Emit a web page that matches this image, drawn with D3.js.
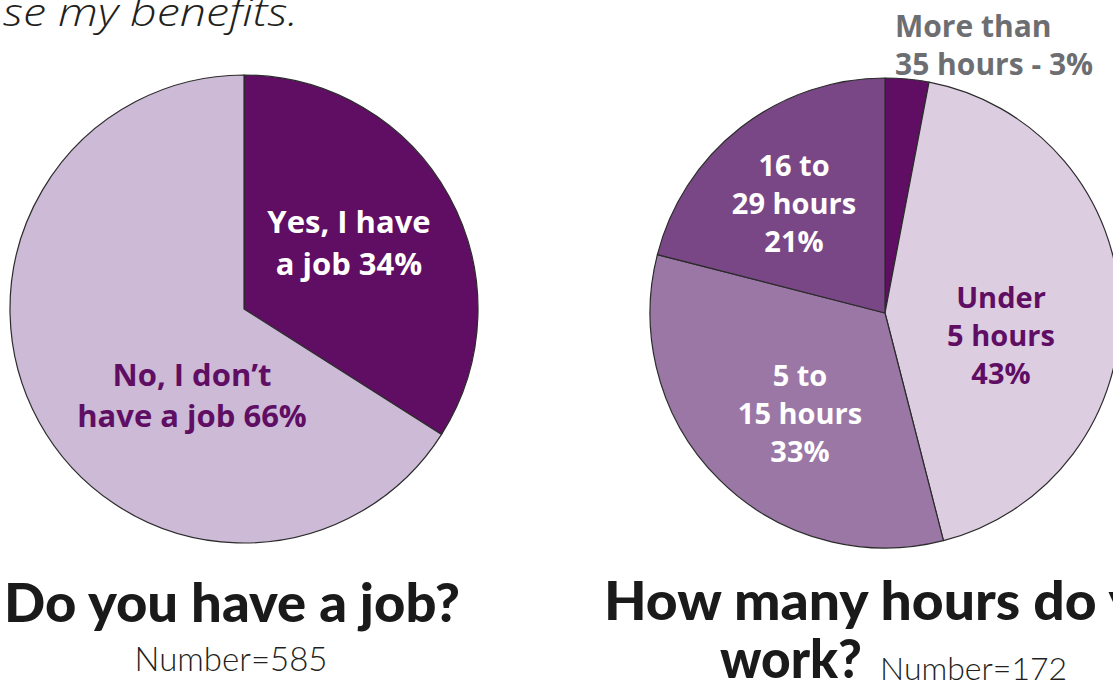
<!DOCTYPE html>
<html>
<head>
<meta charset="utf-8">
<script src="https://cdn.jsdelivr.net/npm/d3@7"></script>
<style>
  html, body { margin: 0; padding: 0; background: #fff; overflow: hidden; }
  svg { display: block; }
</style>
</head>
<body>
<svg id="chart" width="1113" height="684"></svg>
<script>
// ---- data ----
const jobCategories = ["Yes, I have a job", "No, I don't have a job"];
const jobValues = [34, 66];
const jobLabels = [["Yes, I have", "a job 34%"], ["No, I don\u2019t", "have a job 66%"]];

const hoursCategories = ["More than 35 hours", "Under 5 hours", "5 to 15 hours", "16 to 29 hours"];
const hoursValues = [3, 43, 33, 21];
const hoursLabels = [["More than", "35 hours - 3%"], ["Under", "5 hours", "43%"], ["5 to", "15 hours", "33%"], ["16 to", "29 hours", "21%"]];

const titles = ["Do you have a job?", "How many hours do you", "work?"];
const numbers = ["Number=585", "Number=172"];
const headerText = "se my benefits.";

// ---- styles ----
const jobColors = ["#5f0e63", "#ccbad6"];
const hoursColors = ["#5f0e63", "#dccde1", "#9b77a6", "#7a4786"];
const jobLabelColors = ["#ffffff", "#5f0e63"];
const hoursLabelColors = ["#6d6e71", "#5f0e63", "#ffffff", "#ffffff"];
const labelFont = "'Open Sans', Lato, sans-serif";

const svg = d3.select("#chart");

// header (partly visible line of text from the page above)
svg.append("text")
  .attr("x", 3).attr("y", 26)
  .attr("font-family", "'Open Sans', Lato, sans-serif")
  .attr("font-style", "italic").attr("font-weight", 300)
  .attr("font-size", 38).attr("fill", "#231f20")
  .attr("textLength", 295).attr("lengthAdjust", "spacingAndGlyphs")
  .text(headerText);

const pie = d3.pie().sort(null).value(d => d);

function drawPie(cx, cy, r, values, colors) {
  const g = svg.append("g").attr("transform", `translate(${cx},${cy})`);
  const arc = d3.arc().innerRadius(0).outerRadius(r);
  g.selectAll("path").data(pie(values)).join("path")
    .attr("d", arc)
    .attr("fill", (d, i) => colors[i])
    .attr("stroke", "#2b2b2b")
    .attr("stroke-width", 1.2)
    .attr("stroke-linejoin", "round");
  return g;
}

drawPie(244, 309, 234, jobValues, jobColors);
drawPie(885, 313, 235, hoursValues, hoursColors);

function multiLabel(x, y0, lines, color, size, lh, anchor) {
  const t = svg.append("text")
    .attr("font-family", labelFont).attr("font-weight", 700)
    .attr("font-size", size).attr("fill", color)
    .attr("text-anchor", anchor || "middle");
  lines.forEach((l, i) => {
    t.append("tspan").attr("x", x).attr("y", y0 + i * lh).text(l);
  });
}

// left pie labels
multiLabel(349, 233, jobLabels[0], jobLabelColors[0], 31, 42);
multiLabel(192, 386, jobLabels[1], jobLabelColors[1], 31, 41);

// right pie labels
multiLabel(895, 37, hoursLabels[0], hoursLabelColors[0], 30, 38, "start");
multiLabel(1001, 308, hoursLabels[1], hoursLabelColors[1], 29, 38);
multiLabel(800, 386, hoursLabels[2], hoursLabelColors[2], 29, 38);
multiLabel(794, 176, hoursLabels[3], hoursLabelColors[3], 29, 38);

// titles
const titleFont = "Lato, 'Open Sans', sans-serif";
function title(x, y, txt, anchor, len) {
  const t = svg.append("text").attr("x", x).attr("y", y)
    .attr("font-family", titleFont).attr("font-weight", 900)
    .attr("font-size", 54).attr("fill", "#1a1a1a")
    .attr("text-anchor", anchor || "start")
    .text(txt);
  if (len) t.attr("textLength", len).attr("lengthAdjust", "spacingAndGlyphs");
  return t;
}
title(4, 622, titles[0], "start", 456);
title(604, 620, titles[1], "start", 596);
title(720, 678, titles[2], "start", 142);

function num(x, y, txt, anchor, size) {
  svg.append("text").attr("x", x).attr("y", y)
    .attr("font-family", "Lato, 'Open Sans', sans-serif").attr("font-weight", 300)
    .attr("font-size", size).attr("fill", "#231f20")
    .attr("text-anchor", anchor || "start")
    .text(txt);
}
num(231, 671, numbers[0], "middle", 33);
num(880, 680, numbers[1], "start", 32);
</script>
</body>
</html>
